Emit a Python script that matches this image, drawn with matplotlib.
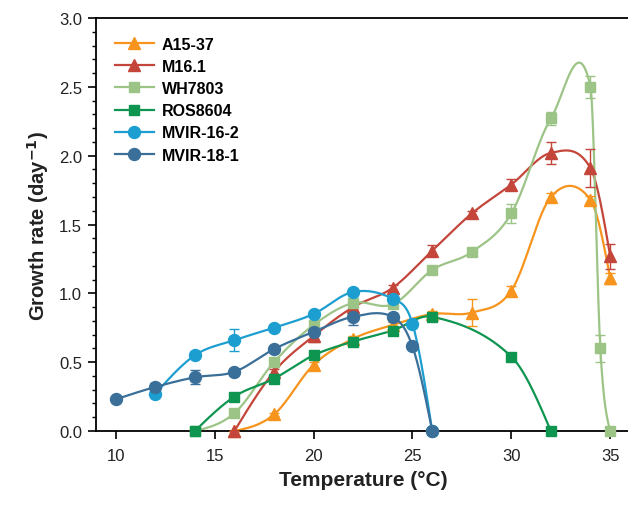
import numpy as np
import matplotlib
matplotlib.use("Agg")
import matplotlib.pyplot as plt
from matplotlib.ticker import MultipleLocator

plt.rcParams['font.family'] = ['Liberation Sans', 'DejaVu Sans']

# ---- data ----
t_a15 = [16, 18, 20, 22, 24, 26, 28, 30, 32, 34, 35]
v_a15 = [0.0, 0.12, 0.48, 0.67, 0.77, 0.85, 0.86, 1.02, 1.70, 1.68, 1.11]
e_a15 = [0.0, 0.01, 0.02, 0.02, 0.02, 0.02, 0.10, 0.03, 0.03, 0.03, 0.04]

t_m16 = [16, 18, 20, 22, 24, 26, 28, 30, 32, 34, 35]
v_m16 = [0.0, 0.43, 0.69, 0.90, 1.04, 1.31, 1.58, 1.79, 2.02, 1.91, 1.27]
e_m16 = [0.0, 0.02, 0.04, 0.02, 0.02, 0.04, 0.02, 0.04, 0.08, 0.14, 0.09]

t_wh = [14, 16, 18, 20, 22, 24, 26, 28, 30, 32, 34, 34.5, 35]
v_wh = [0.0, 0.13, 0.50, 0.77, 0.93, 0.92, 1.17, 1.30, 1.58, 2.27, 2.50, 0.60, 0.0]
e_wh = [0.0, 0.01, 0.02, 0.03, 0.05, 0.03, 0.03, 0.02, 0.07, 0.05, 0.08, 0.10, 0.0]

t_ros = [14, 16, 18, 20, 22, 24, 26, 30, 32]
v_ros = [0.0, 0.25, 0.38, 0.55, 0.65, 0.73, 0.83, 0.54, 0.0]
e_ros = [0.0, 0.01, 0.02, 0.02, 0.02, 0.02, 0.02, 0.02, 0.0]

t_m162 = [12, 14, 16, 18, 20, 22, 24, 25, 26]
v_m162 = [0.27, 0.55, 0.66, 0.75, 0.85, 1.01, 0.96, 0.78, 0.0]
e_m162 = [0.02, 0.02, 0.08, 0.02, 0.02, 0.02, 0.04, 0.02, 0.0]

t_m181 = [10, 12, 14, 16, 18, 20, 22, 24, 25, 26]
v_m181 = [0.23, 0.32, 0.39, 0.43, 0.595, 0.72, 0.83, 0.83, 0.615, 0.0]
e_m181 = [0.01, 0.03, 0.05, 0.02, 0.02, 0.02, 0.06, 0.03, 0.01, 0.0]

labels = ['A15-37', 'M16.1', 'WH7803', 'ROS8604', 'MVIR-16-2', 'MVIR-18-1']
colors = ['#f7941d', '#c4463a', '#9dc487', '#0e9550', '#1c9fd0', '#3a6f99']
markers = ['^', '^', 's', 's', 'o', 'o']
series = [(t_a15, v_a15, e_a15), (t_m16, v_m16, e_m16), (t_wh, v_wh, e_wh),
          (t_ros, v_ros, e_ros), (t_m162, v_m162, e_m162), (t_m181, v_m181, e_m181)]


def smooth_curve(x, y, n=60):
    """Cubic Hermite curve through the points (Catmull-Rom style tangents)."""
    x = np.asarray(x, float)
    y = np.asarray(y, float)
    k = len(x)
    m = np.zeros(k)
    d = np.diff(y) / np.diff(x)
    for i in range(1, k - 1):
        m[i] = (y[i + 1] - y[i - 1]) / (x[i + 1] - x[i - 1])
    m[0] = 1.5 * d[0] - 0.5 * m[1] if k > 2 else d[0]
    m[-1] = 1.5 * d[-1] - 0.5 * m[-2] if k > 2 else d[-1]
    xs_all, ys_all = [], []
    for i in range(k - 1):
        h = x[i + 1] - x[i]
        s = np.linspace(0, 1, n)
        h00 = 2 * s ** 3 - 3 * s ** 2 + 1
        h10 = s ** 3 - 2 * s ** 2 + s
        h01 = -2 * s ** 3 + 3 * s ** 2
        h11 = s ** 3 - s ** 2
        xs_all.append(x[i] + s * h)
        ys_all.append(h00 * y[i] + h10 * h * m[i] + h01 * y[i + 1] + h11 * h * m[i + 1])
    return np.concatenate(xs_all), np.concatenate(ys_all)


fig = plt.figure(figsize=(6.28, 5.06), dpi=100)
ax = fig.add_axes([96 / 628, 1 - 432 / 506, (630 - 96) / 628, (432 - 19) / 506])

handles = []
for (t, v, e), lab, c, m in zip(series, labels, colors, markers):
    xs, ys = smooth_curve(t, v)
    ax.plot(xs, ys, color=c, lw=1.6, zorder=2, clip_on=False)
    ax.errorbar(t, v, yerr=e, fmt='none', ecolor=c, elinewidth=1.0,
                capsize=3.8, capthick=1.0, zorder=3, clip_on=False)
    ms = 8.8 if m == '^' else (7.6 if m == 's' else 8.6)
    ax.plot(t, v, linestyle='none', marker=m, ms=ms, color=c, mec=c,
            zorder=4, clip_on=False)
    h, = ax.plot([], [], color=c, lw=1.6, marker=m, ms=ms, mec=c)
    handles.append(h)

ax.set_xlim(9, 36)
ax.set_ylim(0, 3)
ax.xaxis.set_major_locator(MultipleLocator(5))
ax.yaxis.set_major_locator(MultipleLocator(0.5))
ax.yaxis.set_minor_locator(MultipleLocator(0.1))
ax.yaxis.set_major_formatter(matplotlib.ticker.FormatStrFormatter('%.1f'))
ax.tick_params(axis='both', which='major', direction='out', length=6, width=1.2,
               labelsize=12, colors='black', labelcolor='#222222')
ax.tick_params(axis='y', which='minor', direction='out', length=3, width=1.0)
ax.tick_params(axis='x', pad=6)
ax.tick_params(axis='y', pad=4)
ax.spines['right'].set_visible(False)
for s in ['left', 'bottom', 'top']:
    ax.spines[s].set_linewidth(1.3)

ax.set_xlabel('Temperature (°C)', fontsize=15, fontweight='bold', labelpad=5,
              color='#222222')
ax.set_ylabel('Growth rate (day$^{\\mathbf{-1}}$)', fontsize=14.5, fontweight='bold',
              labelpad=6, color='#222222')

leg = ax.legend(handles, labels, loc='upper left', bbox_to_anchor=(0.036, 0.955),
                frameon=False, prop={'weight': 'bold', 'size': 11.5},
                handlelength=2.4, labelspacing=0.45, handletextpad=0.5,
                borderpad=0, borderaxespad=0)

fig.savefig('out.png', dpi=100)
